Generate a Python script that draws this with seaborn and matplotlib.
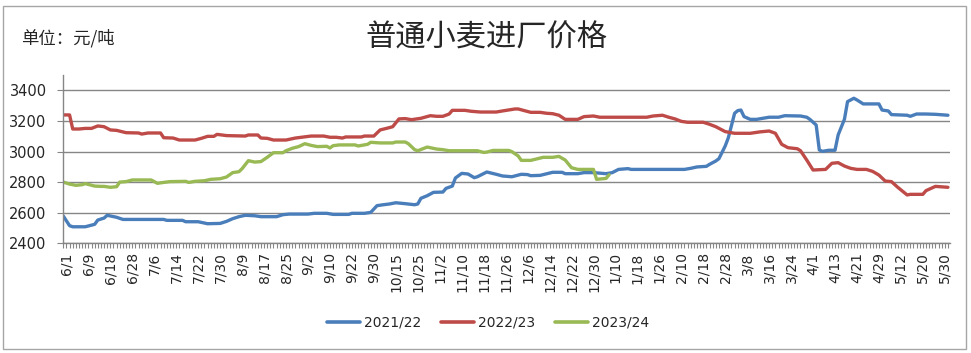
import matplotlib
matplotlib.use("Agg")
import matplotlib.pyplot as plt
from matplotlib.patches import Rectangle
from matplotlib.lines import Line2D
from matplotlib.ticker import FixedLocator, MultipleLocator
import seaborn as sns
import pandas as pd

# ---------------- data ----------------
tick_labels = ["6/1", "6/9", "6/18", "6/28", "7/6", "7/14", "7/22", "7/30", "8/9", "8/17",
               "8/25", "9/2", "9/10", "9/22", "9/30", "10/15", "10/25", "11/2", "11/10", "11/18",
               "11/26", "12/6", "12/14", "12/22", "12/30", "1/10", "1/18", "1/26", "2/10", "2/18",
               "2/28", "3/8", "3/16", "3/24", "4/1", "4/13", "4/21", "4/29", "5/12", "5/20", "5/30"]
n_days = 283          # number of daily categories on the axis
label_step = 7        # a date label every 7th category
first_label = 1

seasons = ["2021/22", "2022/23", "2023/24"]

s1_day = [0, 2, 3, 7, 10, 11, 13, 14, 17, 19, 32, 33, 38, 39, 43, 46, 50, 52, 54, 56, 58, 61, 63, 68, 70,
          72, 78, 80, 84, 86, 91, 92, 96, 98, 100, 102, 104, 106, 109, 112, 113, 114, 116, 118, 121, 122,
          124, 125, 127, 129, 131, 132, 135, 138, 140, 143, 146, 148, 149, 152, 156, 159, 160, 164, 166,
          169, 173, 175, 177, 180, 181, 198, 200, 202, 205, 206, 208, 209, 211, 212, 214, 215, 216, 217,
          219, 221, 223, 225, 228, 230, 235, 237, 238, 240, 241, 242, 244, 246, 247, 249, 250, 252, 253,
          255, 260, 261, 263, 264, 269, 270, 272, 275, 278, 282]
s1_val = [2578, 2515, 2508, 2508, 2524, 2552, 2565, 2583, 2570, 2556, 2556, 2550, 2550, 2541, 2541, 2528,
          2530, 2543, 2561, 2574, 2583, 2580, 2574, 2574, 2587,
          2591, 2591, 2596, 2596, 2589, 2589, 2596, 2596, 2602, 2646, 2652, 2657, 2665, 2659, 2652, 2657,
          2694, 2711, 2733, 2735, 2759, 2774, 2827, 2857, 2853, 2829, 2835, 2866, 2851, 2840, 2835, 2851,
          2849, 2842, 2844, 2864, 2864, 2855, 2855, 2862, 2862, 2855, 2862, 2883, 2888, 2883, 2883, 2890,
          2899, 2903, 2916, 2938, 2953, 3036, 3090, 3250, 3267, 3271, 3228, 3210, 3210, 3217, 3224, 3224,
          3234, 3232, 3224, 3210, 3173, 3010, 3001, 3008, 3008, 3108, 3210, 3326, 3348, 3337, 3311, 3311,
          3271, 3265, 3241, 3237, 3230, 3245, 3245, 3243, 3237]

s2_day = [0, 2, 3, 5, 7, 9, 11, 13, 15, 17, 20, 24, 25, 27, 31, 32, 35, 37, 42, 44, 46, 48, 49, 52, 58,
          59, 62, 63, 65, 67, 71, 74, 79, 83, 85, 87, 89, 90, 95, 96, 99, 101, 103, 105, 107, 109, 111,
          114, 117, 119, 121, 123, 124, 128, 130, 133, 138, 140, 144, 145, 149, 152, 154, 156, 158, 160,
          164, 166, 169, 171, 186, 188, 191, 193, 195, 197, 199, 204, 206, 208, 211, 214, 219, 222, 225,
          227, 229, 231, 234, 235, 237, 239, 243, 245, 247, 249, 251, 253, 256, 258, 260, 262, 264, 266,
          269, 270, 274, 275, 278, 282]
s2_val = [3239, 3239, 3147, 3147, 3151, 3151, 3167, 3162, 3141, 3138, 3123, 3121, 3114, 3121, 3121, 3090,
          3088, 3075, 3075, 3086, 3099, 3099, 3112, 3104, 3101, 3108, 3108, 3088, 3086, 3075, 3075, 3088,
          3101, 3101, 3093, 3093, 3088, 3095, 3095, 3101, 3101, 3141, 3151, 3162, 3213, 3215, 3208, 3217,
          3234, 3230, 3230, 3245, 3269, 3269, 3263, 3258, 3258, 3265, 3278, 3278, 3256, 3256, 3250, 3247,
          3237, 3210, 3210, 3228, 3232, 3224, 3224, 3232, 3237, 3224, 3213, 3197, 3191, 3191, 3178, 3162,
          3130, 3119, 3119, 3128, 3134, 3119, 3047, 3025, 3018, 3005, 2944, 2879, 2883, 2923, 2927, 2905,
          2890, 2883, 2883, 2870, 2846, 2807, 2803, 2766, 2716, 2720, 2720, 2744, 2772, 2766]

s3_day = [0, 2, 4, 6, 7, 10, 12, 13, 15, 17, 18, 20, 22, 28, 30, 32, 34, 39, 40, 42, 45, 47, 50, 52, 54,
          56, 57, 59, 61, 63, 65, 67, 70, 71, 73, 75, 77, 79, 81, 84, 85, 86, 88, 93, 94, 97, 98, 101,
          105, 106, 109, 110, 112, 113, 115, 116, 119, 121, 123, 132, 134, 135, 137, 142, 143, 145, 146,
          149, 153, 156, 158, 160, 162, 164, 169, 170, 173, 174]
s3_val = [2800, 2787, 2779, 2783, 2790, 2774, 2772, 2772, 2766, 2770, 2800, 2803, 2814, 2814, 2792, 2798,
          2803, 2805, 2798, 2805, 2809, 2818, 2822, 2833, 2862, 2868, 2888, 2940, 2931, 2934, 2962, 2992,
          2992, 3005, 3021, 3032, 3051, 3040, 3032, 3034, 3023, 3038, 3043, 3043, 3036, 3047, 3060, 3056,
          3056, 3062, 3062, 3051, 3012, 3005, 3021, 3029, 3016, 3012, 3005, 3005, 2994, 2996, 3007, 3007,
          2999, 2971, 2942, 2942, 2962, 2962, 2968, 2944, 2894, 2883, 2883, 2818, 2824, 2848]

y_ticks = [2400, 2600, 2800, 3000, 3200, 3400]
title = "普通小麦进厂价格"
unit = "单位：元/吨"

# ---------------- build ----------------
df = pd.concat([
    pd.DataFrame({"day": s1_day, "price": s1_val, "season": seasons[0]}),
    pd.DataFrame({"day": s2_day, "price": s2_val, "season": seasons[1]}),
    pd.DataFrame({"day": s3_day, "price": s3_val, "season": seasons[2]}),
], ignore_index=True)

colors = ["#4a7ebb", "#be4b48", "#98b954"]
palette = dict(zip(seasons, colors))

sns.set_theme(style="white")
plt.rcParams["font.family"] = ["DejaVu Sans", "Noto Sans CJK SC"]

W, H = 971, 353
fig = plt.figure(figsize=(W / 100, H / 100), dpi=100)
fig.patch.set_facecolor("white")
ax = fig.add_axes([63.3 / W, (H - 243.3) / H, (949.5 - 63.3) / W, (243.3 - 75) / H])

sns.lineplot(data=df, x="day", y="price", hue="season", palette=palette,
             estimator=None, sort=True, linewidth=2.4, ax=ax, legend=False)

grid_c = "#868686"
ax.set_xlim(0, n_days - 0.5)
ax.set_ylim(2400, 3500)
ax.set_yticks(y_ticks)
ax.yaxis.grid(True, color=grid_c, linewidth=1)
ax.xaxis.grid(False)
ax.set_axisbelow(True)
for s in ["top", "right"]:
    ax.spines[s].set_visible(False)
for s in ["left", "bottom"]:
    ax.spines[s].set_color(grid_c)
    ax.spines[s].set_linewidth(1)

tick_pos = [first_label + label_step * k for k in range(len(tick_labels))]
ax.xaxis.set_major_locator(FixedLocator(tick_pos))
ax.set_xticklabels(tick_labels, rotation=90, fontsize=10)
ax.xaxis.set_minor_locator(MultipleLocator(1))
ax.tick_params(axis="x", which="both", direction="out", length=3.5, width=0.8,
               color=grid_c, pad=3, bottom=True)
ax.tick_params(axis="y", which="major", direction="out", length=4, width=0.8,
               color=grid_c, pad=8, labelsize=10.5, left=True)
ax.set_xlabel("")
ax.set_ylabel("")

fig.text(486 / W, 1 - 38 / H, title, ha="center", va="center", fontsize=21.8,
         family=["Noto Sans CJK SC", "DejaVu Sans"])
fig.text(21 / W, 1 - 38 / H, unit, ha="left", va="center", fontsize=12.5,
         family=["Noto Sans CJK SC", "DejaVu Sans"])

handles = [Line2D([0], [0], color=palette[s], lw=2.6) for s in seasons]
fig.legend(handles, seasons, loc="center", bbox_to_anchor=(488 / W, 1 - 323 / H), ncol=3,
           frameon=False, fontsize=10, handlelength=2.4, handletextpad=0.3, columnspacing=1.4)

fig.patches.append(Rectangle((3 / W, 4 / H), (966 - 3) / W, (349 - 6) / H,
                             transform=fig.transFigure, fill=False, edgecolor="#a6a6a6", lw=1))

fig.savefig("out.png", dpi=100, facecolor="white")
